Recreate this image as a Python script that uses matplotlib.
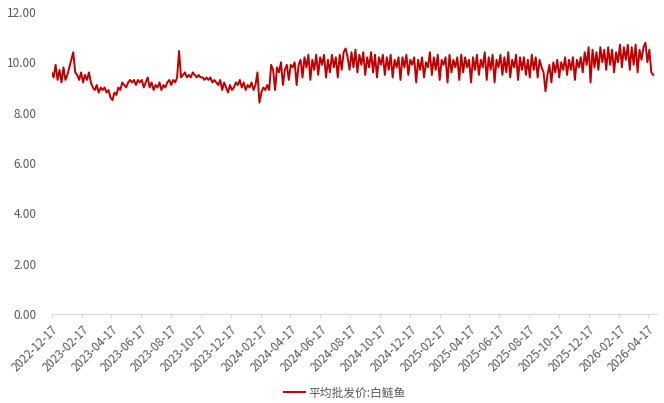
import matplotlib
matplotlib.use("Agg")
import matplotlib.pyplot as plt
import pandas as pd

plt.rcParams['font.family'] = ['Noto Sans CJK SC', 'DejaVu Sans']

start_date = "2022-12-17"
end_date = "2026-05-05"
series_name = "平均批发价:白鲢鱼"

values = [
    9.6, 9.4, 9.9, 9.3, 9.7, 9.2, 9.8, 9.3, 9.5,
    9.8, 10.1, 10.4,
    9.6, 9.5, 9.3, 9.6, 9.2, 9.5, 9.3, 9.6, 9.2,
    9.0, 8.9, 9.1, 8.8, 9.0, 8.9, 9.0, 8.8,
    8.9, 8.6, 8.5, 8.8,
    8.7, 9.0, 8.9, 9.2, 9.1, 9.0,
    9.2, 9.3, 9.2, 9.3, 9.1, 9.3, 9.2, 9.3, 9.0, 9.2, 9.4, 9.0,
    9.2, 8.9, 9.1, 9.0, 9.2, 8.9, 9.1, 9.0, 9.2, 9.3, 9.1, 9.3, 9.2,
    9.4, 10.45,
    9.4, 9.5, 9.6, 9.4, 9.5, 9.4, 9.6, 9.5, 9.4, 9.5, 9.4,
    9.4, 9.3, 9.4, 9.3, 9.4, 9.2, 9.3,
    9.2, 9.1, 9.3, 8.9, 9.2, 9.0, 8.8, 9.1,
    8.9, 9.0, 9.2, 9.1, 9.3, 9.0, 9.2, 8.9, 9.1, 9.0, 9.2, 8.9,
    9.1, 9.6, 8.4,
    8.8, 9.0, 8.9, 9.1, 8.9,
    9.9, 9.7, 8.9, 9.8, 9.6, 10.0, 9.1, 9.7, 9.9, 9.3, 9.9, 9.8, 10.0, 9.1, 9.9,
    10.1, 9.4, 10.2, 9.8, 10.3, 9.3, 10.1, 9.7, 10.3, 9.5, 10.2, 9.9, 10.3, 9.4,
    10.1, 9.6, 10.3, 9.8, 10.2, 9.4, 10.3, 9.7, 10.4,
    10.55,
    10.2, 9.7, 10.4, 9.8, 10.5, 9.6, 10.3, 9.9, 10.4, 9.5, 10.2, 9.8, 10.4, 9.6,
    10.3, 9.4, 10.2, 9.9, 10.3, 9.5, 10.2, 9.7, 10.3, 9.4, 10.1, 9.8, 10.2,
    9.3, 10.2, 9.8, 10.3, 9.5, 10.1, 9.9, 10.2, 9.2, 10.1, 9.7, 10.2, 9.4, 10.0,
    9.8, 10.4, 9.5, 10.2, 9.7, 10.3, 9.3, 10.1, 9.9, 10.2, 9.2, 10.3, 9.6, 10.1,
    9.8, 10.2, 9.3, 10.3, 9.6, 10.2, 9.8, 10.1,
    9.2, 10.2, 9.7, 10.3, 9.5, 10.1, 9.8, 10.4, 9.3, 10.2, 9.7, 10.3, 9.2, 10.1,
    9.8, 10.3, 9.5, 10.2, 9.6, 10.4, 9.4, 10.1, 9.8, 10.3, 9.3, 10.2, 9.7, 10.2,
    9.5, 10.1,
    9.4, 10.3, 9.7, 10.2, 9.4, 10.1, 9.8, 9.6,
    8.85,
    9.5, 9.9, 9.2, 10.0, 9.6, 10.1, 9.4, 10.0, 9.7, 10.2, 9.5, 10.1, 9.7, 10.2,
    9.3, 10.1, 9.8, 10.2,
    9.6, 10.4, 9.9, 10.6, 9.2, 10.5, 9.8, 10.4,
    9.7, 10.6, 10.0, 10.5, 9.7, 10.6, 9.9, 10.5, 9.6, 10.4,
    10.0, 10.7, 9.8, 10.6, 10.1, 10.7, 9.7, 10.6, 9.9, 10.7, 9.6, 10.5, 10.1, 10.6, 10.78,
    10.0, 10.5, 9.6, 9.5,
]

dates = pd.date_range(start_date, periods=len(values), freq="4D")
tick_dates = pd.date_range(start_date, "2026-04-17", freq=pd.DateOffset(months=2))
y_ticks = [0, 2, 4, 6, 8, 10, 12]

fig = plt.figure(figsize=(6.64, 4.03), dpi=100)
ax = fig.add_axes([51.7 / 664, 1 - 314.3 / 403, (656.7 - 51.7) / 664, (314.3 - 11.9) / 403])

line, = ax.plot(dates, values, color="#C00000", linewidth=1.4, label=series_name)

ax.set_xlim(pd.Timestamp(start_date), pd.Timestamp(end_date))
ax.set_ylim(0, 12)
ax.set_yticks(y_ticks)
ax.set_yticklabels([f"{v:.2f}" for v in y_ticks], fontsize=8.5, color="#595959")
ax.tick_params(axis="y", length=0, pad=11)

ax.set_xticks(tick_dates)
ax.set_xticklabels([d.strftime("%Y-%m-%d") for d in tick_dates], rotation=45,
                   ha="right", rotation_mode="anchor", fontsize=8.3, color="#595959")
ax.tick_params(axis="x", length=3, color="#d9d9d9", pad=3)

for s in ["top", "right", "left"]:
    ax.spines[s].set_visible(False)
ax.spines["bottom"].set_color("#d9d9d9")
ax.spines["bottom"].set_linewidth(0.8)

fig.legend(handles=[line], loc="center", bbox_to_anchor=(345 / 664, 1 - 393 / 403),
           frameon=False, fontsize=8.5, labelcolor="#595959", handlelength=1.8,
           handletextpad=0.3)

fig.savefig("out.png", dpi=100)
